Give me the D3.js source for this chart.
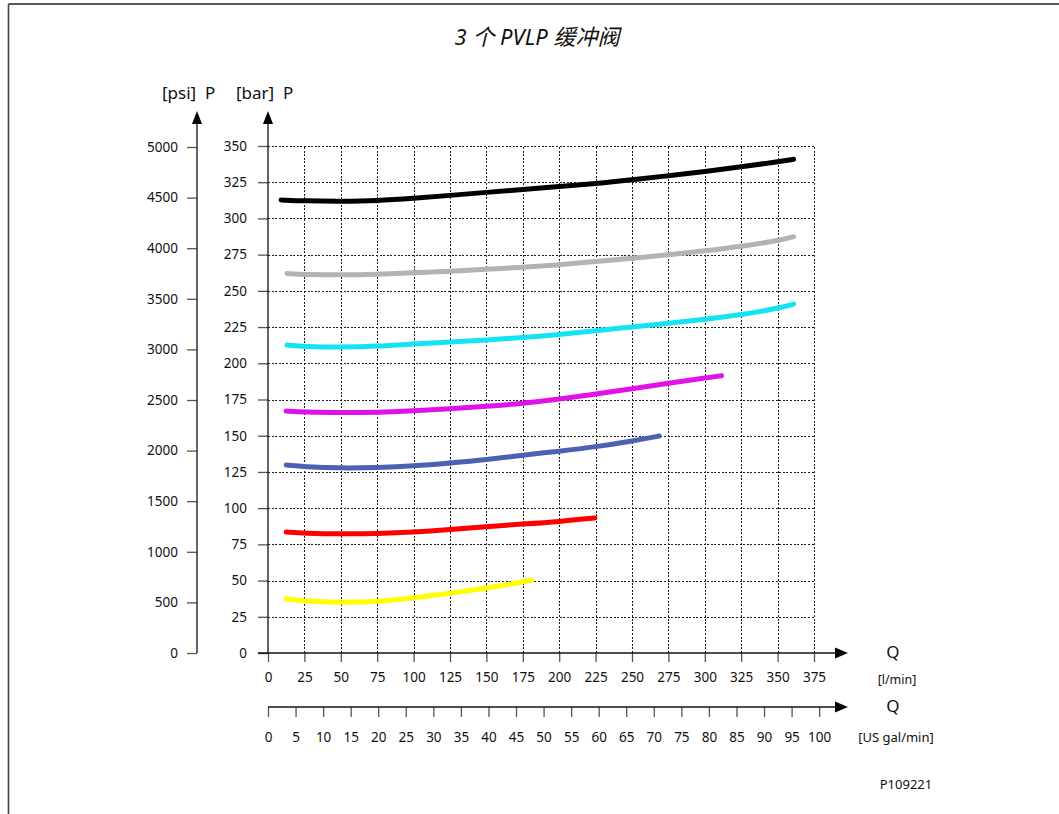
<!DOCTYPE html>
<html>
<head>
<meta charset="utf-8">
<script src="https://cdn.jsdelivr.net/npm/d3@7"></script>
<style>
  html, body { margin: 0; padding: 0; background: #fff; }
  svg { display: block; }
  text { font-family: "Noto Sans", "Noto Sans CJK SC", sans-serif; fill: #111; white-space: pre; }
</style>
</head>
<body>
<svg id="chart" width="1059" height="814"></svg>
<script>
// ---------- data ----------
const titleText = "3 个 PVLP 缓冲阀";
const barTicks = [0, 25, 50, 75, 100, 125, 150, 175, 200, 225, 250, 275, 300, 325, 350];
const psiTicks = [0, 500, 1000, 1500, 2000, 2500, 3000, 3500, 4000, 4500, 5000];
const lminTicks = [0, 25, 50, 75, 100, 125, 150, 175, 200, 225, 250, 275, 300, 325, 350, 375];
const galTicks = [0, 5, 10, 15, 20, 25, 30, 35, 40, 45, 50, 55, 60, 65, 70, 75, 80, 85, 90, 95, 100];

// curves: [flow l/min, pressure bar]
const curveBlack = [[9,312.7],[25,312.1],[50,311.8],[75,312.2],[100,313.9],[125,315.9],[150,318],[175,320],[200,322],[225,324],[250,326.6],[275,329.5],[300,332.4],[325,335.6],[350,339.1],[361,340.8]];
const curveGray = [[13,262],[25,261.3],[50,261],[75,261.4],[100,262.4],[125,263.5],[150,264.8],[175,266.3],[200,268],[225,270.3],[250,272.5],[275,274.8],[300,277.6],[325,280.7],[350,284.6],[361,287.4]];
const curveCyan = [[13,212.6],[25,211.6],[50,211],[75,211.7],[100,213.3],[125,214.7],[150,216.1],[175,217.8],[200,219.8],[225,222.6],[250,225],[275,227.6],[300,230.4],[325,233.5],[350,237.8],[361,240.9]];
const curveMagenta = [[12.5,167],[25,166.3],[50,165.9],[75,166.1],[100,167.3],[125,168.6],[150,170.2],[175,172.3],[200,175.2],[225,178.8],[250,182.4],[275,186.2],[300,189.8],[311.5,191.4]];
const curveBlue = [[12.5,129.8],[25,128.5],[50,127.6],[75,128],[100,129.1],[125,131.2],[150,133.5],[175,136.6],[200,139.3],[225,142.3],[250,146.3],[268.7,149.8]];
const curveRed = [[12.5,83.5],[25,82.7],[50,82.1],[75,82.4],[100,83.4],[125,85.2],[150,87.3],[175,89],[200,90.7],[224.5,93.2]];
const curveYellow = [[12.5,37.3],[25,35.8],[50,34.8],[75,35.3],[100,38],[125,41.2],[150,44.8],[175,49],[181,50.4]];

const series = [
  { name: "black", data: curveBlack, color: "#000000" },
  { name: "gray", data: curveGray, color: "#b3b3b3" },
  { name: "cyan", data: curveCyan, color: "#14e4f2" },
  { name: "magenta", data: curveMagenta, color: "#e012e8" },
  { name: "blue", data: curveBlue, color: "#4b61b1" },
  { name: "red", data: curveRed, color: "#ff0000" },
  { name: "yellow", data: curveYellow, color: "#ffff00" }
];

// ---------- layout ----------
const svg = d3.select("#chart");
const X0 = 268, X1 = 814, Y0 = 653, Y1 = 146;
const x = d3.scaleLinear().domain([0, 375]).range([X0, X1]);
const xg = d3.scaleLinear().domain([0, 100]).range([X0, X0 + (X1 - X0) * 378.54 / 375]);
const y = d3.scaleLinear().domain([0, 350]).range([Y0, Y1]);
const yp = d3.scaleLinear().domain([0, 5000]).range([Y0, 147]);
const PSI_X = 197, GAL_Y = 707, ARROW_X = 848, ARROW_TOP = 111;

// frame
svg.append("line").attr("x1", 8.5).attr("x2", 1059).attr("y1", 4).attr("y2", 4)
  .attr("stroke", "#222").attr("stroke-width", 1.6);
svg.append("line").attr("x1", 8.5).attr("x2", 8.5).attr("y1", 4).attr("y2", 814)
  .attr("stroke", "#444").attr("stroke-width", 1.6);

// title
svg.append("text").attr("x", 537).attr("y", 45).attr("text-anchor", "middle")
  .style("font-size", "22px").style("font-style", "italic").text(titleText);

// grid
const grid = svg.append("g").attr("stroke", "#1a1a1a").attr("stroke-width", 1)
  .attr("stroke-dasharray", "2,1.6").attr("shape-rendering", "crispEdges");
grid.selectAll("line.h").data(barTicks.filter(d => d > 0)).join("line")
  .attr("class", "h").attr("x1", X0).attr("x2", X1)
  .attr("y1", d => Math.round(y(d)) + 0.5).attr("y2", d => Math.round(y(d)) + 0.5);
grid.selectAll("line.v").data(lminTicks.filter(d => d > 0)).join("line")
  .attr("class", "v").attr("y1", Y0).attr("y2", Y1)
  .attr("x1", d => Math.round(x(d)) + 0.5).attr("x2", d => Math.round(x(d)) + 0.5);

// axes
function styleAxis(g) {
  g.select(".domain").remove();
  g.selectAll(".tick line").attr("stroke", "#555").attr("stroke-width", 1.3);
  g.selectAll(".tick text").style("font-size", "13.5px").attr("fill", "#111")
    .style("font-family", "'Noto Sans', sans-serif");
}
const fmt = d3.format("d");
svg.append("g").attr("transform", `translate(${X0},0)`)
  .call(d3.axisLeft(y).tickValues(barTicks).tickFormat(fmt).tickSize(10).tickPadding(11).tickSizeOuter(0))
  .call(styleAxis);
svg.append("g").attr("transform", `translate(${PSI_X},0)`)
  .call(d3.axisLeft(yp).tickValues(psiTicks).tickFormat(fmt).tickSize(10).tickPadding(9).tickSizeOuter(0))
  .call(styleAxis);
svg.append("g").attr("transform", `translate(0,${Y0})`)
  .call(d3.axisBottom(x).tickValues(lminTicks).tickFormat(fmt).tickSize(9).tickPadding(10).tickSizeOuter(0))
  .call(styleAxis);
svg.append("g").attr("transform", `translate(0,${GAL_Y})`)
  .call(d3.axisBottom(xg).tickValues(galTicks).tickFormat(fmt).tickSize(10).tickPadding(15).tickSizeOuter(0))
  .call(styleAxis);

// axis lines with arrows
const ax = svg.append("g").attr("stroke", "#111").attr("stroke-width", 1.3);
ax.append("line").attr("x1", X0).attr("x2", X0).attr("y1", Y0).attr("y2", ARROW_TOP + 8);
ax.append("line").attr("x1", PSI_X).attr("x2", PSI_X).attr("y1", Y0).attr("y2", ARROW_TOP + 8);
ax.append("line").attr("x1", X0 - 10).attr("x2", ARROW_X - 8).attr("y1", Y0).attr("y2", Y0);
ax.append("line").attr("x1", X0).attr("x2", ARROW_X - 8).attr("y1", GAL_Y).attr("y2", GAL_Y);
function upArrow(cx, tipY) {
  svg.append("path").attr("d", `M${cx},${tipY} L${cx - 5},${tipY + 13} L${cx + 5},${tipY + 13} Z`).attr("fill", "#000");
}
function rightArrow(tipX, cy) {
  svg.append("path").attr("d", `M${tipX},${cy} L${tipX - 13},${cy - 5.5} L${tipX - 13},${cy + 5.5} Z`).attr("fill", "#000");
}
upArrow(X0, ARROW_TOP);
upArrow(PSI_X, ARROW_TOP);
rightArrow(ARROW_X, Y0);
rightArrow(ARROW_X, GAL_Y);

// axis titles
function label(tx, ty, txt, size, anchor) {
  svg.append("text").attr("x", tx).attr("y", ty).attr("text-anchor", anchor || "middle")
    .style("font-size", size + "px").text(txt);
}
label(162, 99, "[psi]  P", 17, "start");
label(236, 99, "[bar]  P", 17, "start");
label(893, 658, "Q", 17);
label(897, 684, "[l/min]", 12.5);
label(893, 712, "Q", 17);
label(896, 742, "[US gal/min]", 13);
label(906, 789, "P109221", 13);

// curves
const line = d3.line().x(d => x(d[0])).y(d => y(d[1])).curve(d3.curveBasis);
svg.append("g").selectAll("path").data(series).join("path")
  .attr("d", s => line(s.data))
  .attr("fill", "none")
  .attr("stroke", s => s.color)
  .attr("stroke-width", 5)
  .attr("stroke-linecap", "round")
  .attr("stroke-linejoin", "round");
</script>
</body>
</html>
